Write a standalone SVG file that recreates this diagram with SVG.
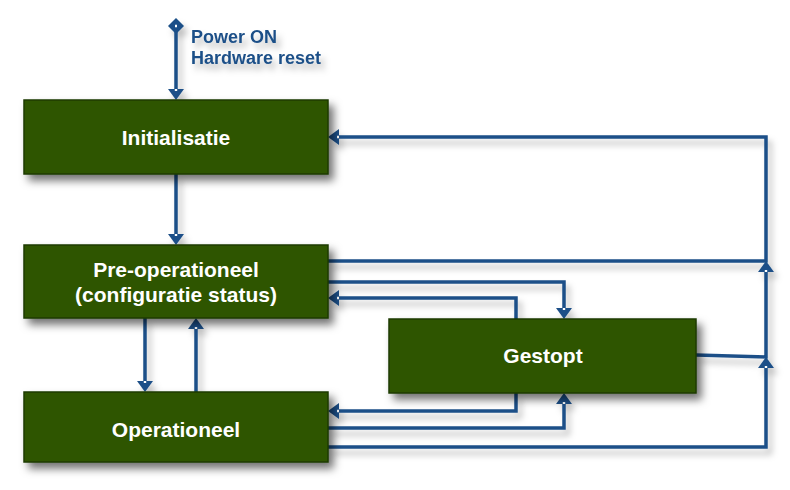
<svg xmlns="http://www.w3.org/2000/svg" width="790" height="490" viewBox="0 0 790 490">
<defs>
<filter id="sh" x="-20%" y="-30%" width="150%" height="170%">
<feDropShadow dx="5" dy="6" stdDeviation="4" flood-color="#000" flood-opacity="0.55"/>
</filter>
<filter id="lsh" x="-10%" y="-10%" width="130%" height="130%">
<feDropShadow dx="4" dy="6" stdDeviation="3" flood-color="#000" flood-opacity="0.25"/>
</filter>
<marker id="ah" viewBox="0 0 11 16" refX="0" refY="8" markerWidth="11" markerHeight="16" markerUnits="userSpaceOnUse" orient="auto">
<path d="M0,0 L11,8 L0,16 z" fill="#1d5088"/>
<rect x="0" y="6.8" width="2" height="2.4" fill="#fff"/>
</marker>
<marker id="dm" viewBox="0 0 16 16" refX="8" refY="8" markerWidth="16" markerHeight="16" markerUnits="userSpaceOnUse" orient="auto">
<path d="M0,8 L8,0 L16,8 L8,16 z" fill="#1d5088"/>
<rect x="6.8" y="7" width="2.4" height="2" fill="#fff"/>
</marker>
</defs>
<style>
.box{fill:#2d5400;stroke:#1e3a00;stroke-width:1.5}
.lbl{font-family:"Liberation Sans",Arial,sans-serif;font-weight:bold;font-size:21px;fill:#fff;text-anchor:middle}
.pw{font-family:"Liberation Sans",Arial,sans-serif;font-weight:bold;font-size:18px;fill:#1d5088}
.c{fill:none;stroke:#1d5088;stroke-width:3.5;stroke-linejoin:miter}
.a{marker-end:url(#ah)}
</style>
<rect width="790" height="490" fill="#fff"/>
<g id="connectors" filter="url(#lsh)">
<path class="c a" d="M176,26 V89" marker-start="url(#dm)"/>
<path class="c a" d="M176,174 V234"/>
<path class="c a" d="M145,318 V381"/>
<path class="c a" d="M196,392 V329"/>
<path class="c a" d="M328,261 H766 V137 H339"/>
<path class="c a" d="M696,355 L766,357 V272"/>
<path class="c a" d="M328,447 H766 V368"/>
<path class="c a" d="M328,282 H564 V308"/>
<path class="c a" d="M516,319 V298 H339"/>
<path class="c a" d="M516,393 V411 H339"/>
<path class="c a" d="M328,428 H564 V404"/>
</g>
<g id="power-label" filter="url(#lsh)">
<text class="pw" x="191" y="43">Power ON</text>
<text class="pw" x="191" y="64">Hardware reset</text>
</g>
<g id="initialisatie">
<rect class="box" x="24" y="100" width="304" height="74" filter="url(#sh)"/>
<text class="lbl" x="176" y="145">Initialisatie</text>
</g>
<g id="pre-operationeel">
<rect class="box" x="24" y="245" width="304" height="73" filter="url(#sh)"/>
<text class="lbl" x="176" y="277">Pre-operationeel</text>
<text class="lbl" x="176" y="302">(configuratie status)</text>
</g>
<g id="operationeel">
<rect class="box" x="24" y="392" width="304" height="70" filter="url(#sh)"/>
<text class="lbl" x="176" y="437">Operationeel</text>
</g>
<g id="gestopt">
<rect class="box" x="389" y="319" width="307" height="74" filter="url(#sh)"/>
<text class="lbl" x="543" y="363">Gestopt</text>
</g>
</svg>
